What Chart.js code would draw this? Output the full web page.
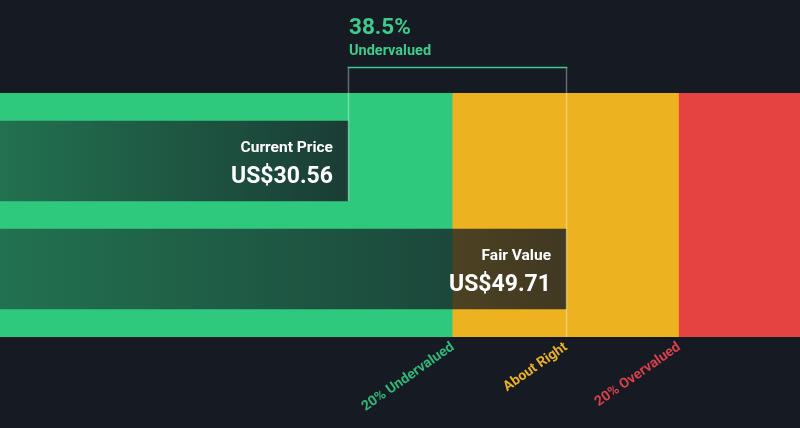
<!DOCTYPE html>
<html>
<head>
<meta charset="utf-8">
<script src="https://cdn.jsdelivr.net/npm/chart.js@4"></script>
<style>
  html, body { margin: 0; padding: 0; background: #151a23; }
  #wrap { width: 800px; height: 428px; position: relative; }
</style>
</head>
<body>
<div id="wrap"><canvas id="valuation"></canvas></div>
<script>
const rowLabels = ["Current Price", "Fair Value"];
const prices = [30.56, 49.71];
const rows = [1, 2];
const bandEdges = [0, 39.77, 59.65, 70.26];
const bandColors = ["#2fc97e", "#ecb21f", "#e54341"];
const tickValues = [39.77, 49.71, 59.65];
const tickLabels = ["20% Undervalued", "About Right", "20% Overvalued"];
const tickColors = ["#2fb979", "#e9b021", "#d9404a"];

const BG = "21,26,35";

const bands = bandColors.map((c, i) => ({ x: [bandEdges[i], bandEdges[i + 1]], y: 1.5 }));
const bars = prices.map((p, i) => ({ x: [0, p], y: rows[i] }));

// darker towards the end of each bar
const barFill = (ctx) => {
  const chart = ctx.chart;
  if (!chart.chartArea) return "rgba(" + BG + ",0.65)";
  const xs = chart.scales.x;
  const end = xs.getPixelForValue(prices[ctx.dataIndex]);
  const g = chart.ctx.createLinearGradient(xs.left, 0, end, 0);
  g.addColorStop(0, "rgba(" + BG + ",0.5)");
  g.addColorStop(1, "rgba(" + BG + ",0.8)");
  return g;
};

const overlay = {
  id: "overlay",
  afterDatasetsDraw(chart) {
    const ctx = chart.ctx;
    const xs = chart.scales.x;
    const meta = chart.getDatasetMeta(1);
    const area = chart.chartArea;

    // bar texts
    meta.data.forEach((el, i) => {
      const top = el.y - el.height / 2;
      const right = el.x - 15;
      ctx.save();
      ctx.fillStyle = "#ffffff";
      ctx.textAlign = "right";
      ctx.textBaseline = "alphabetic";
      ctx.font = "bold 15.5px Roboto";
      ctx.fillText(rowLabels[i], right, top + 31);
      ctx.font = "bold 23px Roboto";
      ctx.fillText("US$" + prices[i].toFixed(2), right, top + 62);
      ctx.restore();
    });

    // bracket between the two prices
    const x1 = Math.round(xs.getPixelForValue(prices[0])) + 0.5;
    const x2 = Math.round(xs.getPixelForValue(prices[1])) + 0.5;
    const yTop = 67.5;
    const curBottom = meta.data[0].y + meta.data[0].height / 2;
    ctx.save();
    ctx.lineWidth = 1.5;
    ctx.strokeStyle = "rgba(255,255,255,0.35)";
    ctx.beginPath();
    ctx.moveTo(x1, yTop);
    ctx.lineTo(x1, curBottom);
    ctx.moveTo(x2, yTop);
    ctx.lineTo(x2, area.bottom);
    ctx.stroke();
    ctx.strokeStyle = "#3ecb8c";
    ctx.beginPath();
    ctx.moveTo(x1 - 0.75, yTop);
    ctx.lineTo(x2 + 0.75, yTop);
    ctx.stroke();

    const pct = (prices[1] - prices[0]) / prices[1] * 100;
    ctx.fillStyle = "#3ecb8c";
    ctx.textAlign = "left";
    ctx.textBaseline = "alphabetic";
    ctx.font = "bold 22.5px Roboto";
    ctx.fillText(pct.toFixed(1) + "%", x1 + 0.5, 34);
    ctx.font = "bold 14.5px Roboto";
    ctx.fillText("Undervalued", x1 + 0.5, 55);
    ctx.restore();
  },
};

const chart = new Chart(document.getElementById("valuation"), {
  type: "bar",
  data: {
    datasets: [
      {
        label: "bands",
        data: bands,
        backgroundColor: bandColors,
        barThickness: 244,
        grouped: false,
        order: 2,
      },
      {
        label: "prices",
        data: bars,
        backgroundColor: barFill,
        barThickness: 80,
        grouped: false,
        order: 1,
      },
    ],
  },
  options: {
    indexAxis: "y",
    responsive: true,
    maintainAspectRatio: false,
    animation: false,
    layout: { padding: { top: 93, left: 0, right: 0, bottom: 0 } },
    plugins: {
      legend: { display: false },
      tooltip: { enabled: false },
    },
    scales: {
      x: {
        type: "linear",
        min: bandEdges[0],
        max: bandEdges[3],
        grid: { display: false, drawTicks: false },
        border: { display: false },
        afterBuildTicks: (scale) => {
          scale.ticks = tickValues.map((v) => ({ value: v }));
        },
        afterFit: (scale) => {
          scale.height = 91;
        },
        ticks: {
          autoSkip: false,
          minRotation: 35,
          maxRotation: 35,
          padding: 2,
          color: (c) => tickColors[c.index],
          font: { family: "Roboto", size: 14, weight: "bold" },
          callback: (v, i) => tickLabels[i],
        },
      },
      y: {
        type: "linear",
        reverse: true,
        offset: false,
        min: 0.37,
        max: 2.63,
        display: false,
      },
    },
  },
  plugins: [overlay],
});
</script>
</body>
</html>
